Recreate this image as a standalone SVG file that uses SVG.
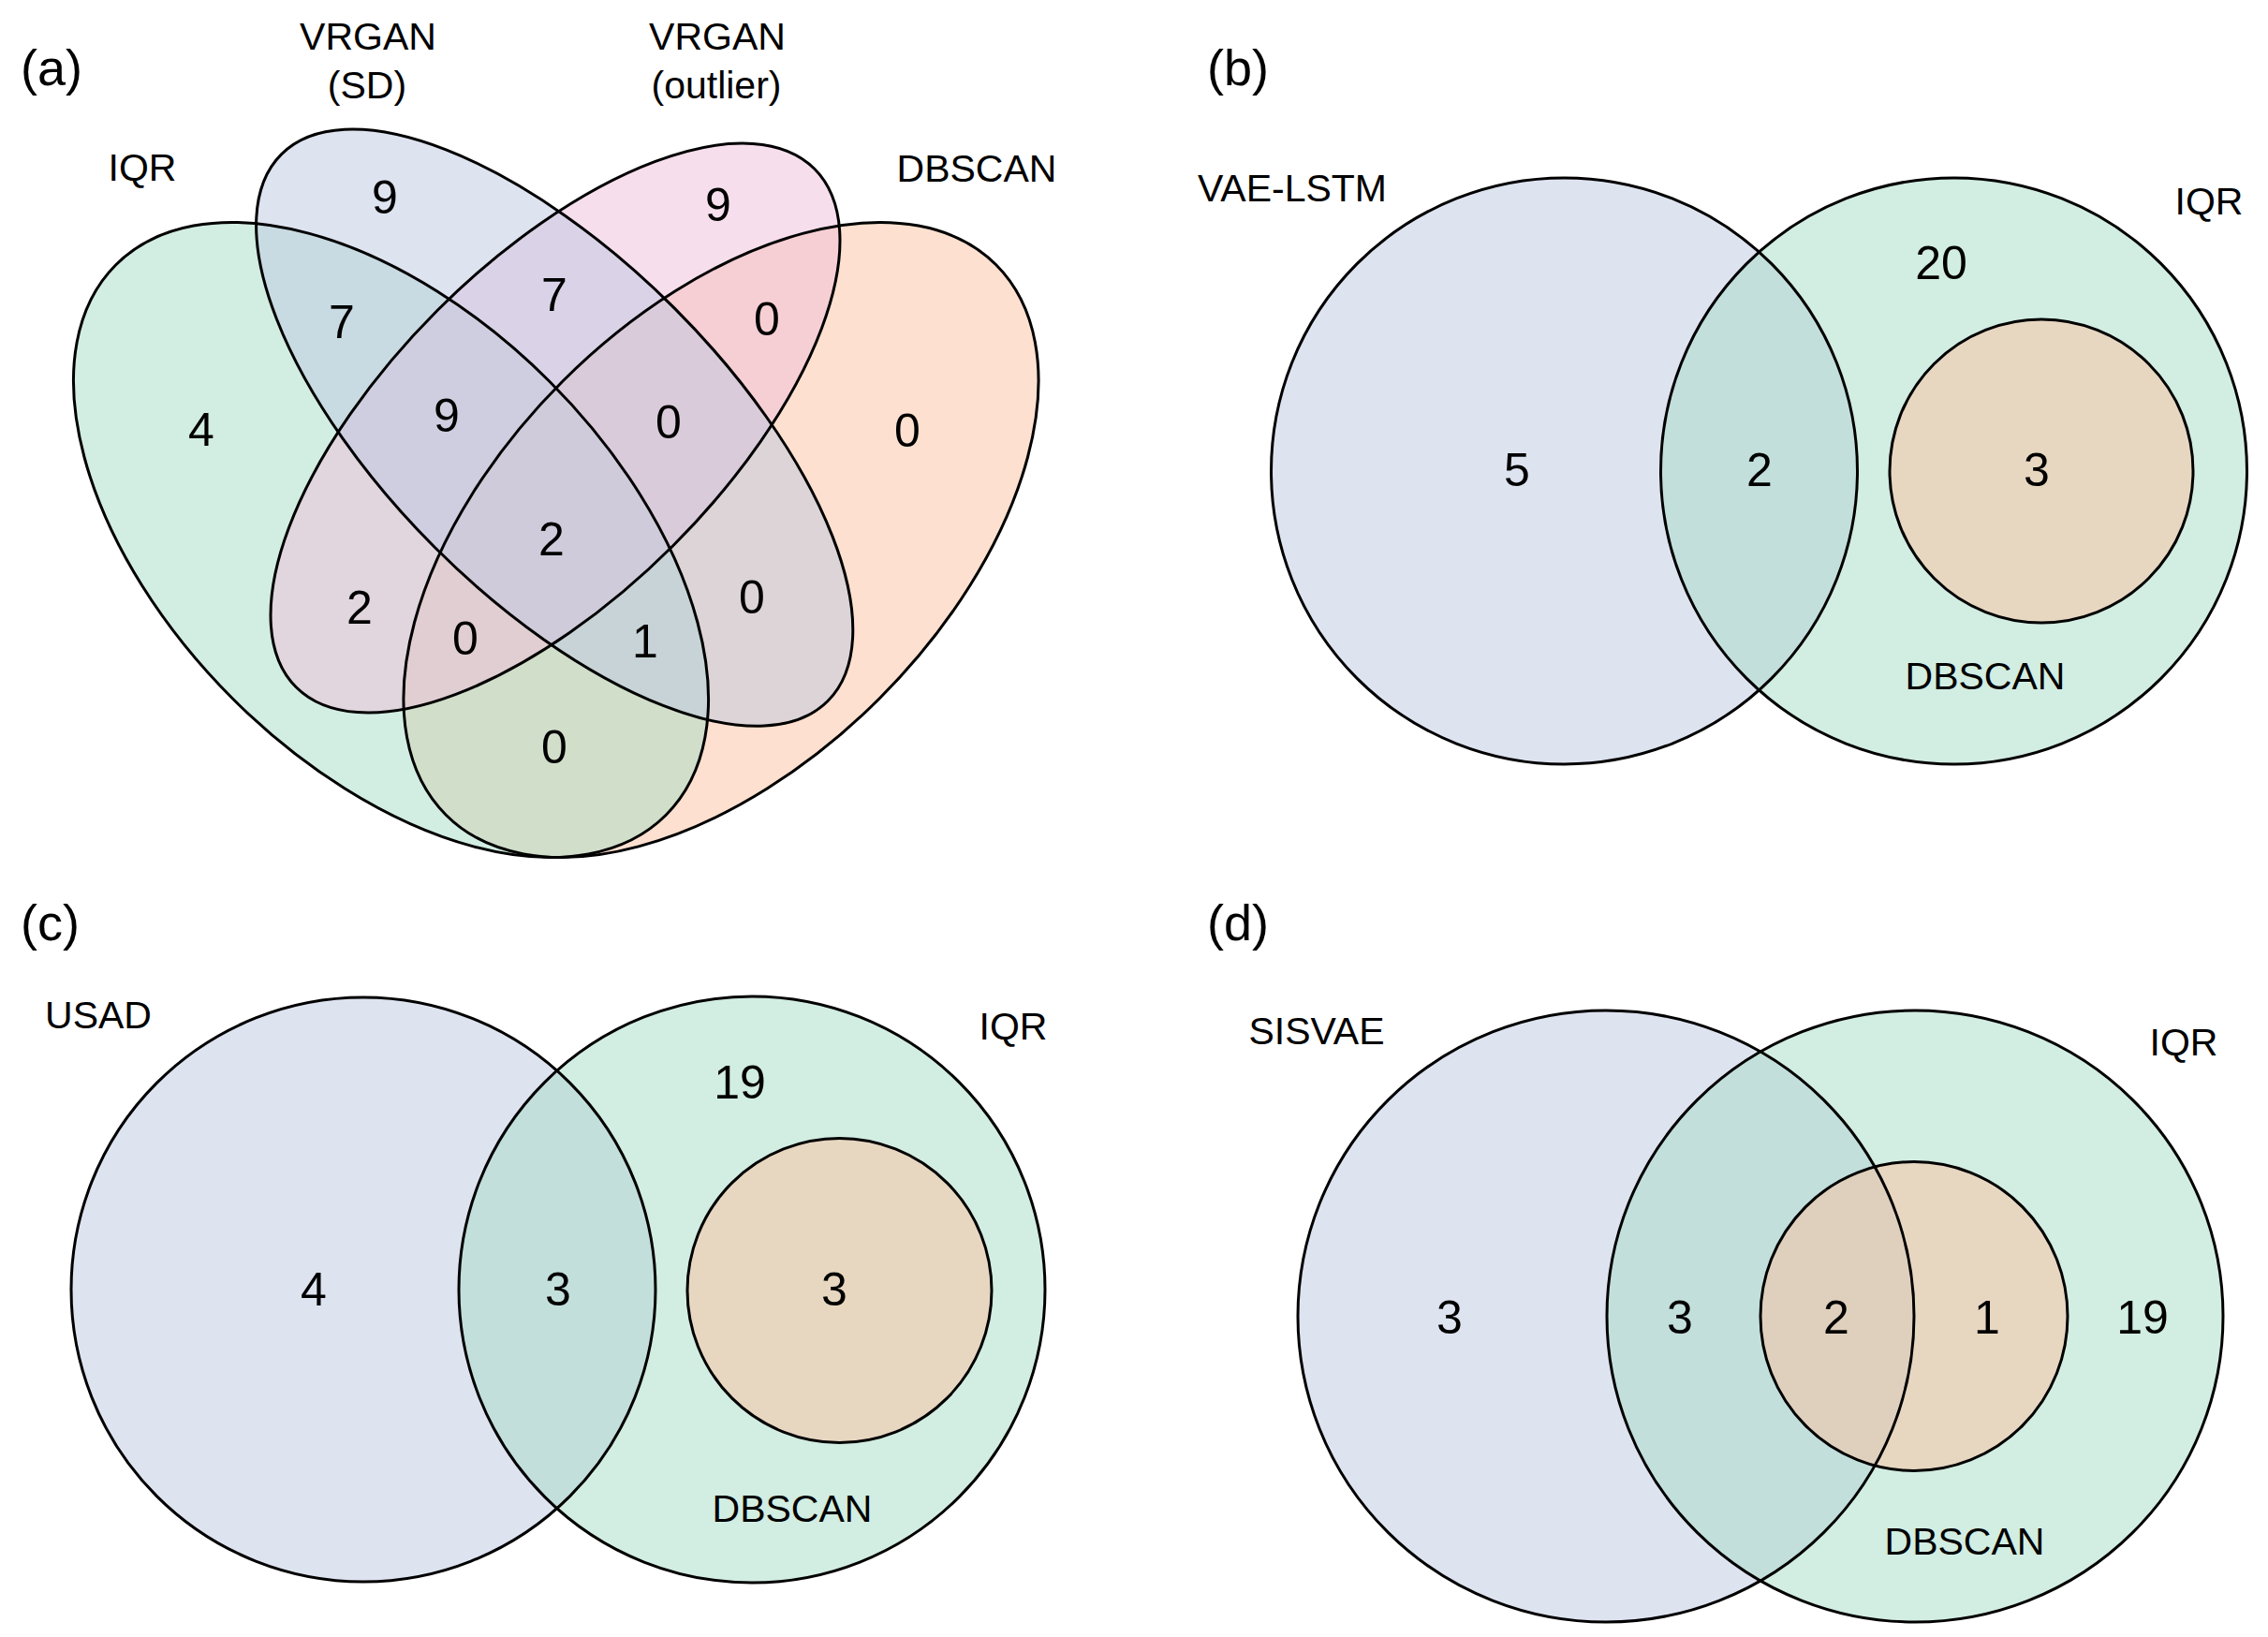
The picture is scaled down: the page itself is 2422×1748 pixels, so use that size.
<svg xmlns="http://www.w3.org/2000/svg" width="2422" height="1748" viewBox="0 0 2422 1748">
<style>
text{font-family:"Liberation Sans",Arial,Helvetica,sans-serif;fill:#000}
.lbl{font-size:41px;text-anchor:middle}
.num{font-size:50px;text-anchor:middle}
.pan{font-size:54px}
.f{fill-opacity:0.5;stroke:none}
.o{fill:none;stroke:#000;stroke-width:3}
.g{fill:#a5dbc5}.b{fill:#bdc7e1}.p{fill:#efbdd9}.r{fill:#fbc19f}
</style>
<rect width="2422" height="1748" fill="#fff"/>
<g id="panel-a">
<text class="pan" x="22" y="91">(a)</text>
<g id="a-dbscan"><ellipse class="f r" cx="770" cy="576.5" rx="415.4" ry="239.4" transform="rotate(-45 770 576.5)"/><text class="lbl" x="1043" y="194">DBSCAN</text></g>
<g id="a-iqr"><ellipse class="f g" cx="417.5" cy="576.5" rx="415.4" ry="239.4" transform="rotate(45 417.5 576.5)"/><text class="lbl" x="152" y="193">IQR</text></g>
<g id="a-vrgan-outlier"><ellipse class="f p" cx="593" cy="457" rx="391.4" ry="177.8" transform="rotate(-45 593 457)"/><text class="lbl" x="766" y="53">VRGAN</text><text class="lbl" x="765" y="105">(outlier)</text></g>
<g id="a-vrgan-sd"><ellipse class="f b" cx="592.2" cy="456.7" rx="412.7" ry="180.8" transform="rotate(45 592.2 456.7)"/><text class="lbl" x="393" y="53">VRGAN</text><text class="lbl" x="392" y="105">(SD)</text></g>
<g id="a-outlines">
<ellipse class="o" cx="770" cy="576.5" rx="415.4" ry="239.4" transform="rotate(-45 770 576.5)"/>
<ellipse class="o" cx="417.5" cy="576.5" rx="415.4" ry="239.4" transform="rotate(45 417.5 576.5)"/>
<ellipse class="o" cx="593" cy="457" rx="391.4" ry="177.8" transform="rotate(-45 593 457)"/>
<ellipse class="o" cx="592.2" cy="456.7" rx="412.7" ry="180.8" transform="rotate(45 592.2 456.7)"/>
</g>
<g id="a-counts">
<text class="num" x="411" y="228">9</text>
<text class="num" x="767" y="236">9</text>
<text class="num" x="365" y="361">7</text>
<text class="num" x="592" y="332">7</text>
<text class="num" x="819" y="358">0</text>
<text class="num" x="215" y="476">4</text>
<text class="num" x="477" y="461">9</text>
<text class="num" x="714" y="468">0</text>
<text class="num" x="969" y="477">0</text>
<text class="num" x="589" y="593">2</text>
<text class="num" x="384" y="666">2</text>
<text class="num" x="803" y="655">0</text>
<text class="num" x="497" y="699">0</text>
<text class="num" x="689" y="702">1</text>
<text class="num" x="592" y="815">0</text>
</g>
</g>
<g id="panel-b">
<text class="pan" x="1289" y="91">(b)</text>
<g id="b-vae-lstm"><circle class="f b" cx="1670.5" cy="503" r="313"/><text class="lbl" x="1380" y="215">VAE-LSTM</text></g>
<g id="b-iqr"><circle class="f g" cx="2086.5" cy="503" r="313"/><text class="lbl" x="2359" y="229">IQR</text></g>
<g id="b-dbscan"><circle class="f r" cx="2180" cy="503" r="162"/><text class="lbl" x="2120" y="736">DBSCAN</text></g>
<g id="b-outlines">
<circle class="o" cx="1670.5" cy="503" r="313"/>
<circle class="o" cx="2086.5" cy="503" r="313"/>
<circle class="o" cx="2180" cy="503" r="162"/>
</g>
<g id="b-counts">
<text class="num" x="1620" y="519">5</text>
<text class="num" x="1879" y="519">2</text>
<text class="num" x="2073" y="298">20</text>
<text class="num" x="2175" y="519">3</text>
</g>
</g>
<g id="panel-c">
<text class="pan" x="22" y="1004">(c)</text>
<g id="c-usad"><circle class="f b" cx="388" cy="1377" r="312"/><text class="lbl" x="105" y="1098">USAD</text></g>
<g id="c-iqr"><circle class="f g" cx="803" cy="1377" r="313"/><text class="lbl" x="1082" y="1110">IQR</text></g>
<g id="c-dbscan"><circle class="f r" cx="896.5" cy="1378" r="162.5"/><text class="lbl" x="846" y="1625">DBSCAN</text></g>
<g id="c-outlines">
<circle class="o" cx="388" cy="1377" r="312"/>
<circle class="o" cx="803" cy="1377" r="313"/>
<circle class="o" cx="896.5" cy="1378" r="162.5"/>
</g>
<g id="c-counts">
<text class="num" x="335" y="1394">4</text>
<text class="num" x="596" y="1394">3</text>
<text class="num" x="790" y="1173">19</text>
<text class="num" x="891" y="1394">3</text>
</g>
</g>
<g id="panel-d">
<text class="pan" x="1289" y="1004">(d)</text>
<g id="d-sisvae"><ellipse class="f b" cx="1715" cy="1405.5" rx="329" ry="326.5"/><text class="lbl" x="1406" y="1115">SISVAE</text></g>
<g id="d-iqr"><ellipse class="f g" cx="2045" cy="1405.5" rx="329" ry="326.5"/><text class="lbl" x="2332" y="1127">IQR</text></g>
<g id="d-dbscan"><ellipse class="f r" cx="2044" cy="1405.5" rx="164" ry="165"/><text class="lbl" x="2098" y="1660">DBSCAN</text></g>
<g id="d-outlines">
<ellipse class="o" cx="1715" cy="1405.5" rx="329" ry="326.5"/>
<ellipse class="o" cx="2045" cy="1405.5" rx="329" ry="326.5"/>
<ellipse class="o" cx="2044" cy="1405.5" rx="164" ry="165"/>
</g>
<g id="d-counts">
<text class="num" x="1548" y="1424">3</text>
<text class="num" x="1794" y="1424">3</text>
<text class="num" x="1961" y="1424">2</text>
<text class="num" x="2122" y="1424">1</text>
<text class="num" x="2288" y="1424">19</text>
</g>
</g>
</svg>
